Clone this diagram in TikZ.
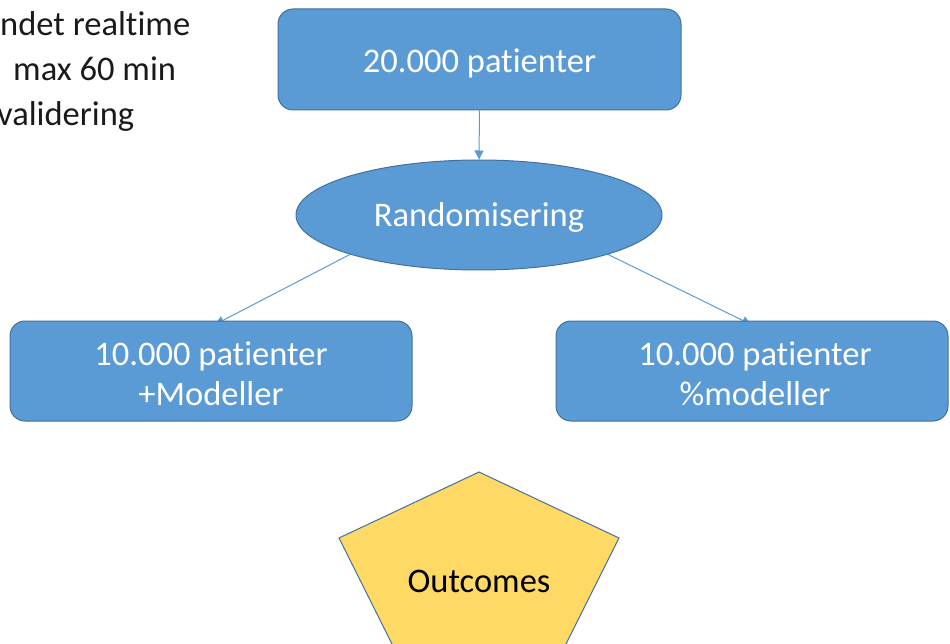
\documentclass[tikz,border=0pt]{standalone}
\usepackage{fontspec}
\setmainfont[Ligatures=NoCommon]{Carlito}
\usetikzlibrary{shapes.geometric,arrows.meta,calc,backgrounds}

\definecolor{boxfill}{HTML}{5B9BD5}
\definecolor{boxline}{HTML}{41719C}
\definecolor{penfill}{HTML}{FFD966}
\definecolor{bodytext}{HTML}{1A1A1A}

\tikzset{
  big/.style={font=\fontsize{34.5}{40}\selectfont},
  bluebox/.style={draw=boxline, fill=boxfill, line width=1pt,
    rounded corners=15pt, inner sep=0pt},
  blueell/.style={ellipse, draw=boxline, fill=boxfill, line width=1pt,
    inner sep=0pt},
  intext/.style={big, text=white, align=center, inner sep=0pt},
  flow/.style={draw=boxfill, line width=1pt,
    -{Triangle[length=9pt,width=9pt]}},
  note/.style={font=\fontsize{34.5}{45}\selectfont, text=bodytext,
    anchor=base west, inner sep=0pt},
}

\begin{document}
\begin{tikzpicture}[x=1pt,y=-1pt]
\useasboundingbox (0,0) rectangle (950,644);

% notes in the upper left corner
\node[note] (n1) at (0,36) {ndet realtime};
\node[note] (n2) at (13,81) {max 60 min};
\node[note] (n3) at (-3,126) {validering};

% flow boxes
\node[bluebox, minimum width=403pt, minimum height=101pt,
  label={[intext, yshift=-4pt]center:20.000 patienter}] (top) at (479.5,59.5) {};
\node[blueell, minimum width=366pt, minimum height=110pt,
  label={[intext, yshift=-2pt]center:Randomisering}] (rand) at (479,215) {};
\node[bluebox, minimum width=402pt, minimum height=100pt,
  label={[intext, yshift=-2.5pt]center:10.000 patienter\\+Modeller}] (left) at (211,371) {};
\node[bluebox, minimum width=392pt, minimum height=100pt,
  label={[intext, yshift=-2.5pt, xshift=3pt]center:10.000 patienter\\\%modeller}] (right) at (752,371) {};

% outcome pentagon
\coordinate (p1) at (479,472);
\coordinate (p2) at (619,538);
\coordinate (p3) at (565.5,645);
\coordinate (p4) at (392.5,645);
\coordinate (p5) at (339,538);
\draw[draw=boxline, fill=penfill, line width=1pt] (p1) -- (p2) -- (p3) -- (p4) -- (p5) -- cycle;
\node[big, text=black] (out) at (479,581) {Outcomes};

% connectors, kept behind the shapes
\begin{pgfonlayer}{background}
\draw[flow] (top.south) -- (rand.north);
\draw[flow] (rand.197) -- ($(left.north)+(4,4)$);
\draw[flow] (rand.-17) -- ($(right.north)+(-1,4)$);
\end{pgfonlayer}
\end{tikzpicture}
\end{document}
